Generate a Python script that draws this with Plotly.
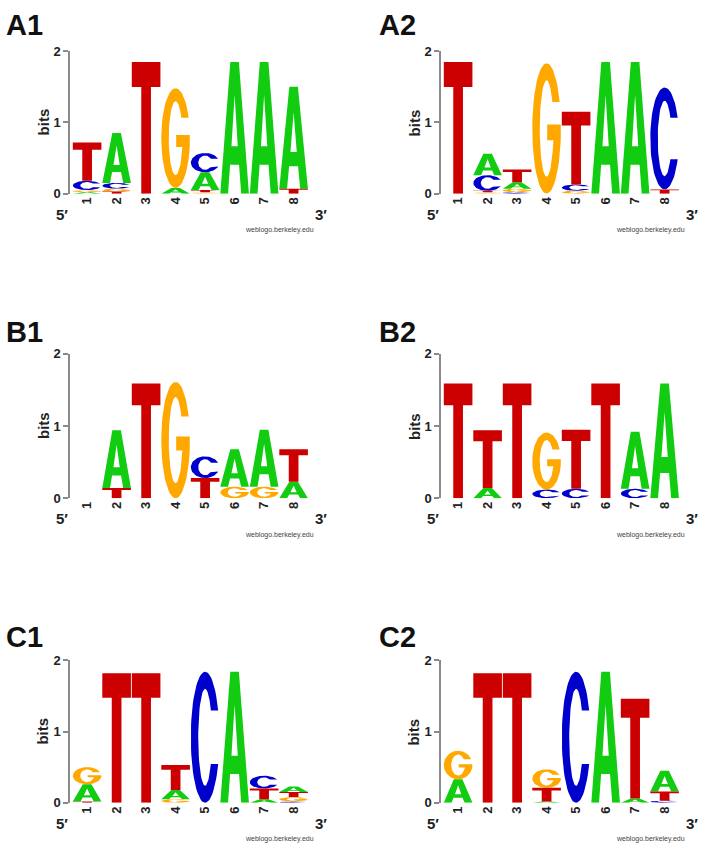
import math
import plotly.graph_objects as go

# ---------------- data (bits per letter, positions 1..8) ----------------
positions = ["1", "2", "3", "4", "5", "6", "7", "8"]
letters = ["A", "C", "G", "T"]

A1_A = [0.02, 0.70, 0.00, 0.08, 0.25, 1.85, 1.85, 1.43]
A1_C = [0.13, 0.08, 0.00, 0.00, 0.27, 0.00, 0.00, 0.00]
A1_G = [0.03, 0.04, 0.00, 1.40, 0.02, 0.00, 0.00, 0.00]
A1_T = [0.54, 0.03, 1.85, 0.00, 0.03, 0.00, 0.00, 0.07]

A2_A = [0.00, 0.30, 0.09, 0.00, 0.00, 1.85, 1.85, 0.00]
A2_C = [0.00, 0.22, 0.02, 0.00, 0.09, 0.00, 0.00, 1.43]
A2_G = [0.00, 0.02, 0.05, 1.83, 0.04, 0.00, 0.00, 0.00]
A2_T = [1.85, 0.02, 0.18, 0.00, 1.02, 0.00, 0.00, 0.06]

B1_A = [0.00, 0.80, 0.00, 0.00, 0.00, 0.52, 0.79, 0.23]
B1_C = [0.00, 0.00, 0.00, 0.00, 0.30, 0.00, 0.00, 0.00]
B1_G = [0.00, 0.00, 0.00, 1.61, 0.00, 0.16, 0.16, 0.00]
B1_T = [0.00, 0.14, 1.59, 0.00, 0.28, 0.00, 0.00, 0.45]

B2_A = [0.00, 0.14, 0.00, 0.00, 0.00, 0.00, 0.79, 1.59]
B2_C = [0.00, 0.00, 0.00, 0.12, 0.13, 0.00, 0.13, 0.00]
B2_G = [0.00, 0.00, 0.00, 0.79, 0.00, 0.00, 0.00, 0.00]
B2_T = [1.59, 0.80, 1.59, 0.00, 0.82, 1.59, 0.00, 0.00]

C1_A = [0.24, 0.00, 0.00, 0.13, 0.00, 1.84, 0.05, 0.08]
C1_C = [0.00, 0.00, 0.00, 0.00, 1.84, 0.00, 0.18, 0.02]
C1_G = [0.24, 0.00, 0.00, 0.05, 0.00, 0.00, 0.00, 0.06]
C1_T = [0.02, 1.82, 1.82, 0.35, 0.00, 0.00, 0.15, 0.07]

C2_A = [0.33, 0.00, 0.00, 0.02, 0.00, 1.84, 0.06, 0.29]
C2_C = [0.00, 0.00, 0.00, 0.00, 1.84, 0.00, 0.00, 0.03]
C2_G = [0.40, 0.00, 0.00, 0.26, 0.00, 0.00, 0.00, 0.00]
C2_T = [0.00, 1.82, 1.82, 0.19, 0.00, 0.00, 1.40, 0.13]

panel_names = ["A1", "A2", "B1", "B2", "C1", "C2"]
panels = {
    "A1": {"A": A1_A, "C": A1_C, "G": A1_G, "T": A1_T},
    "A2": {"A": A2_A, "C": A2_C, "G": A2_G, "T": A2_T},
    "B1": {"A": B1_A, "C": B1_C, "G": B1_G, "T": B1_T},
    "B2": {"A": B2_A, "C": B2_C, "G": B2_G, "T": B2_T},
    "C1": {"A": C1_A, "C": C1_C, "G": C1_G, "T": C1_T},
    "C2": {"A": C2_A, "C": C2_C, "G": C2_G, "T": C2_T},
}

# ---------------- styling ----------------
W, H = 704, 856
COLORS = {"A": "#11CC11", "C": "#0000CC", "G": "#FFA800", "T": "#CC0000"}
FONT = "Liberation Sans, Arial, sans-serif"


# ---------------- glyph outlines in a unit box ----------------
def arc(rx, ry, t0, t1, n):
    pts = []
    for k in range(n + 1):
        t = math.radians(t0 + (t1 - t0) * k / n)
        pts.append((0.5 + rx * math.cos(t), 0.5 + ry * math.sin(t)))
    return pts


TX, TY = 0.26, 0.13
RXI, RYI = 0.5 - TX, 0.5 - TY


def glyph_C():
    to = 24.0
    yo = 0.5 * math.sin(math.radians(to))
    ti = math.degrees(math.asin(min(1.0, yo / RYI)))
    outer = arc(0.5, 0.5, to, 360 - to, 60)
    inner = arc(RXI, RYI, 360 - ti, ti, 50)
    return outer + inner


def glyph_G():
    to = 24.0
    yo = 0.5 * math.sin(math.radians(to))
    ti = math.degrees(math.asin(min(1.0, yo / RYI)))
    outer = arc(0.5, 0.5, to, 352, 60)
    xe = outer[-1][0]
    bar = [(xe, 0.53), (0.52, 0.53), (0.52, 0.41), (0.74, 0.41)]
    tstart = 360 - math.degrees(math.acos(0.96))
    inner = arc(RXI, RYI, tstart, ti, 50)
    return outer + bar + inner


def glyph_A():
    return [(0, 0), (0.35, 1), (0.65, 1), (1, 0), (0.73, 0), (0.655, 0.22),
            (0.345, 0.22), (0.39, 0.36), (0.61, 0.36), (0.5, 0.75), (0.39, 0.36),
            (0.345, 0.22), (0.27, 0)]


def glyph_T():
    return [(0, 1), (1, 1), (1, 0.81), (0.67, 0.81), (0.67, 0), (0.33, 0),
            (0.33, 0.81), (0, 0.81)]


GLYPHS = {"A": glyph_A(), "C": glyph_C(), "G": glyph_G(), "T": glyph_T()}

# ---------------- layout geometry (pixels) ----------------
col_axis_px = [70, 441]
row_y0_px = [190, 500, 810]
row_y2_px = [45, 353, 665]
pitch = 29.5
xr = [0.42, 8.67]
dom_w = pitch * (xr[1] - xr[0])
label_y_px = [18, 331, 641]

fig = go.Figure()
annotations = []
LW = 0.97

for i, name in enumerate(panel_names):
    col, row = i % 2, i // 2
    ax = i + 1
    xa = "x" if ax == 1 else f"x{ax}"
    ya = "y" if ax == 1 else f"y{ax}"
    data = panels[name]
    xs = {L: [] for L in letters}
    ys = {L: [] for L in letters}
    for j in range(len(positions)):
        items = [(data[L][j], k, L) for k, L in enumerate(letters) if data[L][j] > 0]
        items.sort()
        base = 0.0
        for h, _, L in items:
            for gx, gy in GLYPHS[L]:
                xs[L].append(j + 1 - LW / 2 + gx * LW)
                ys[L].append(base + gy * h)
            xs[L].append(None)
            ys[L].append(None)
            base += h
    for L in letters:
        if xs[L]:
            fig.add_trace(go.Scatter(
                x=xs[L], y=ys[L], mode="lines", fill="toself",
                fillcolor=COLORS[L], line=dict(width=0, color=COLORS[L]),
                hoverinfo="skip", showlegend=False, xaxis=xa, yaxis=ya))

    x0 = col_axis_px[col]
    y0 = row_y0_px[row]
    y2 = row_y2_px[row]
    fig.layout[f"xaxis{'' if ax == 1 else ax}"] = dict(
        domain=[x0 / W, (x0 + dom_w) / W], range=xr, anchor=ya,
        showline=False, showgrid=False, zeroline=False, ticks="",
        tickmode="array", tickvals=list(range(1, 9)), ticktext=positions,
        tickangle=-90, tickfont=dict(family=FONT, size=13, color="#222", weight="bold"),
        fixedrange=True)
    fig.layout[f"yaxis{'' if ax == 1 else ax}"] = dict(
        domain=[1 - y0 / H, 1 - y2 / H], range=[0, 2], anchor=xa,
        showline=True, linecolor="#8a8a8a", linewidth=1.5,
        ticks="outside", ticklen=5, tickwidth=1.5, tickcolor="#8a8a8a",
        tickmode="array", tickvals=[0, 1, 2], ticktext=["0", "1", "2"],
        tickfont=dict(family=FONT, size=13, color="#222", weight="bold"),
        showgrid=False, zeroline=False, fixedrange=True)

    # panel label
    annotations.append(dict(
        text=f"<b>{name}</b>", x=(4 if col == 0 else 377) / W, y=1 - label_y_px[row] / H,
        xref="paper", yref="paper", xanchor="left", yanchor="middle", showarrow=False,
        font=dict(family=FONT, size=29, color="#111")))
    # bits title
    annotations.append(dict(
        text="<b>bits</b>", x=(x0 - 27) / W, y=1 - (y0 + y2) / 2 / H,
        xref="paper", yref="paper", xanchor="center", yanchor="middle", textangle=-90,
        showarrow=False, font=dict(family=FONT, size=15, color="#222")))
    # 5' and 3'
    annotations.append(dict(
        text="<b>5\u2032</b>", x=(x0 - 8) / W, y=1 - (y0 + 21) / H,
        xref="paper", yref="paper", xanchor="center", yanchor="middle", showarrow=False,
        font=dict(family=FONT, size=15, color="#222")))
    annotations.append(dict(
        text="<b>3\u2032</b>", x=(x0 + 251) / W, y=1 - (y0 + 21) / H,
        xref="paper", yref="paper", xanchor="center", yanchor="middle", showarrow=False,
        font=dict(family=FONT, size=15, color="#222")))
    annotations.append(dict(
        text="weblogo.berkeley.edu", x=(x0 + 209) / W, y=1 - (y0 + 37) / H,
        xref="paper", yref="paper", xanchor="center", yanchor="middle", showarrow=False,
        font=dict(family=FONT, size=7, color="#444")))

fig.update_layout(
    width=W, height=H, margin=dict(l=0, r=0, t=0, b=0),
    paper_bgcolor="white", plot_bgcolor="white",
    annotations=annotations, showlegend=False)

fig.write_html("out.html", config={"displayModeBar": False},
               post_script="document.body.style.margin='0';document.body.style.overflow='hidden';")
